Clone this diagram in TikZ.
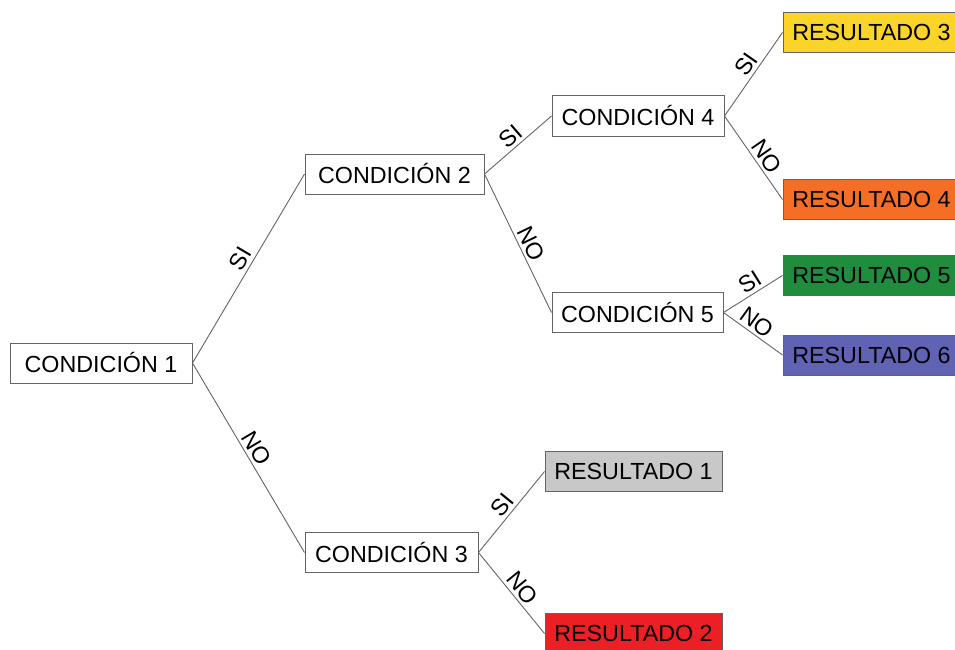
\documentclass[tikz,border=0pt]{standalone}
\usepackage{fontspec}
\setmainfont{Liberation Sans}
\definecolor{rYellow}{RGB}{250,212,40}
\definecolor{rOrange}{RGB}{244,110,38}
\definecolor{rGreen}{RGB}{32,140,62}
\definecolor{rBlue}{RGB}{96,98,180}
\definecolor{rGray}{RGB}{200,200,200}
\definecolor{rRed}{RGB}{234,32,36}
\definecolor{lineGray}{RGB}{100,100,100}
\begin{document}
\begin{tikzpicture}[x=1pt,y=-1pt,
  box/.style={draw=lineGray,line width=1pt,rectangle,inner sep=0pt,
    minimum height=40pt,font=\fontsize{23.3}{26}\selectfont,text=black},
  res/.style={box,minimum width=177pt},
  conn/.style={draw=lineGray,line width=0.9pt},
  lab/.style={sloped,above,inner sep=3pt,font=\fontsize{23.3}{26}\selectfont}]
\useasboundingbox (0,0) rectangle (955,650);
\clip (0,0) rectangle (955,650);
\node[box,minimum width=182pt] (c1) at (101,363) {CONDICIÓN 1};
\node[box,minimum width=179pt] (c2) at (394.5,174) {CONDICIÓN 2};
\node[box,minimum width=172pt] (c4) at (638,116) {CONDICIÓN 4};
\node[box,minimum width=171pt] (c5) at (637.5,312.5) {CONDICIÓN 5};
\node[box,minimum width=173pt] (c3) at (391.5,552.5) {CONDICIÓN 3};
\node[res,fill=rYellow] (r3) at (871.5,32.5) {RESULTADO 3};
\node[res,fill=rOrange] (r4) at (871.5,199.5) {RESULTADO 4};
\node[res,fill=rGreen] (r5) at (871.5,275.5) {RESULTADO 5};
\node[res,fill=rBlue] (r6) at (871.5,355) {RESULTADO 6};
\node[res,fill=rGray] (r1) at (633.5,471.5) {RESULTADO 1};
\node[res,fill=rRed] (r2) at (633.5,633.5) {RESULTADO 2};
\draw[conn] (c1.east) -- node[lab,pos=0.52] {SI} (c2.west);
\draw[conn] (c1.east) -- node[lab,pos=0.48] {NO} (c3.west);
\draw[conn] (c2.east) -- node[lab,pos=0.5] {SI} (c4.west);
\draw[conn] (c2.east) -- node[lab,pos=0.54] {NO} (c5.west);
\draw[conn] (c4.east) -- node[lab,pos=0.54] {SI} (r3.west);
\draw[conn] (c4.east) -- node[lab,pos=0.56] {NO} (r4.west);
\draw[conn] (c5.east) -- node[lab,pos=0.55] {SI} (r5.west);
\draw[conn] (c5.east) -- node[lab,pos=0.45] {NO} (r6.west);
\draw[conn] (c3.east) -- node[lab,pos=0.5] {SI} (r1.west);
\draw[conn] (c3.east) -- node[lab,pos=0.53] {NO} (r2.west);
\end{tikzpicture}
\end{document}
